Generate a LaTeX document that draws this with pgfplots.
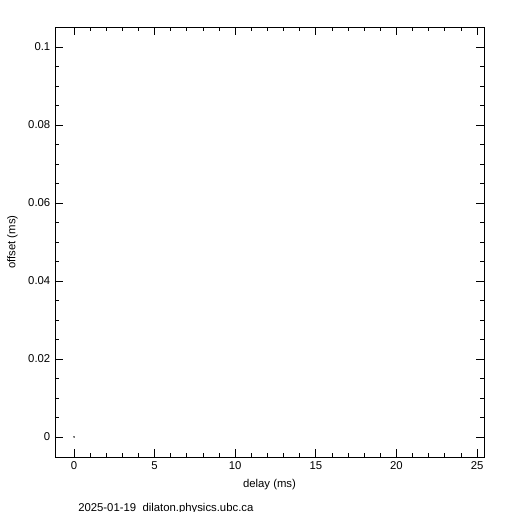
\documentclass[border=0pt]{standalone}
\usepackage{fontspec}
\setmainfont{Liberation Sans}
\usepackage{pgfplots}
\pgfplotsset{compat=1.18}
\begin{document}
\begin{tikzpicture}
\useasboundingbox (0pt,0pt) rectangle (384pt,384pt);
\begin{axis}[
  at={(41.25pt,41.25pt)}, anchor=south west,
  scale only axis,
  width=321.75pt, height=322.5pt,
  xmin=-1.18, xmax=25.43,
  ymin=-0.00513, ymax=0.10513,
  xtick={0,5,10,15,20,25},
  ytick={0,0.02,0.04,0.06,0.08,0.1},
  yticklabels={0,0.02,0.04,0.06,0.08,0.1},
  minor x tick num=4,
  minor y tick num=3,
  tick align=inside,
  major tick length=6pt,
  minor tick length=3pt,
  xtick pos=both, ytick pos=both,
  tick style={black, line width=0.6pt},
  axis line style={line width=0.6pt},
  /pgf/number format/assume math mode=true,
  tick label style={font=\fontsize{8.5}{9}\selectfont},
  label style={font=\fontsize{8.5}{9}\selectfont},
  xlabel={delay (ms)},
  ylabel={offset (ms)},
  xlabel style={yshift=0pt},
  ylabel style={yshift=1pt},
]
\addplot[only marks, mark=*, mark size=0.3pt, black] coordinates {(0,0)};
\end{axis}
\node[anchor=base west, font=\fontsize{8.5}{9}\selectfont, inner sep=0pt] at (58.5pt,0.5pt) {2025-01-19\ \ dilaton.physics.ubc.ca};
\end{tikzpicture}
\end{document}
